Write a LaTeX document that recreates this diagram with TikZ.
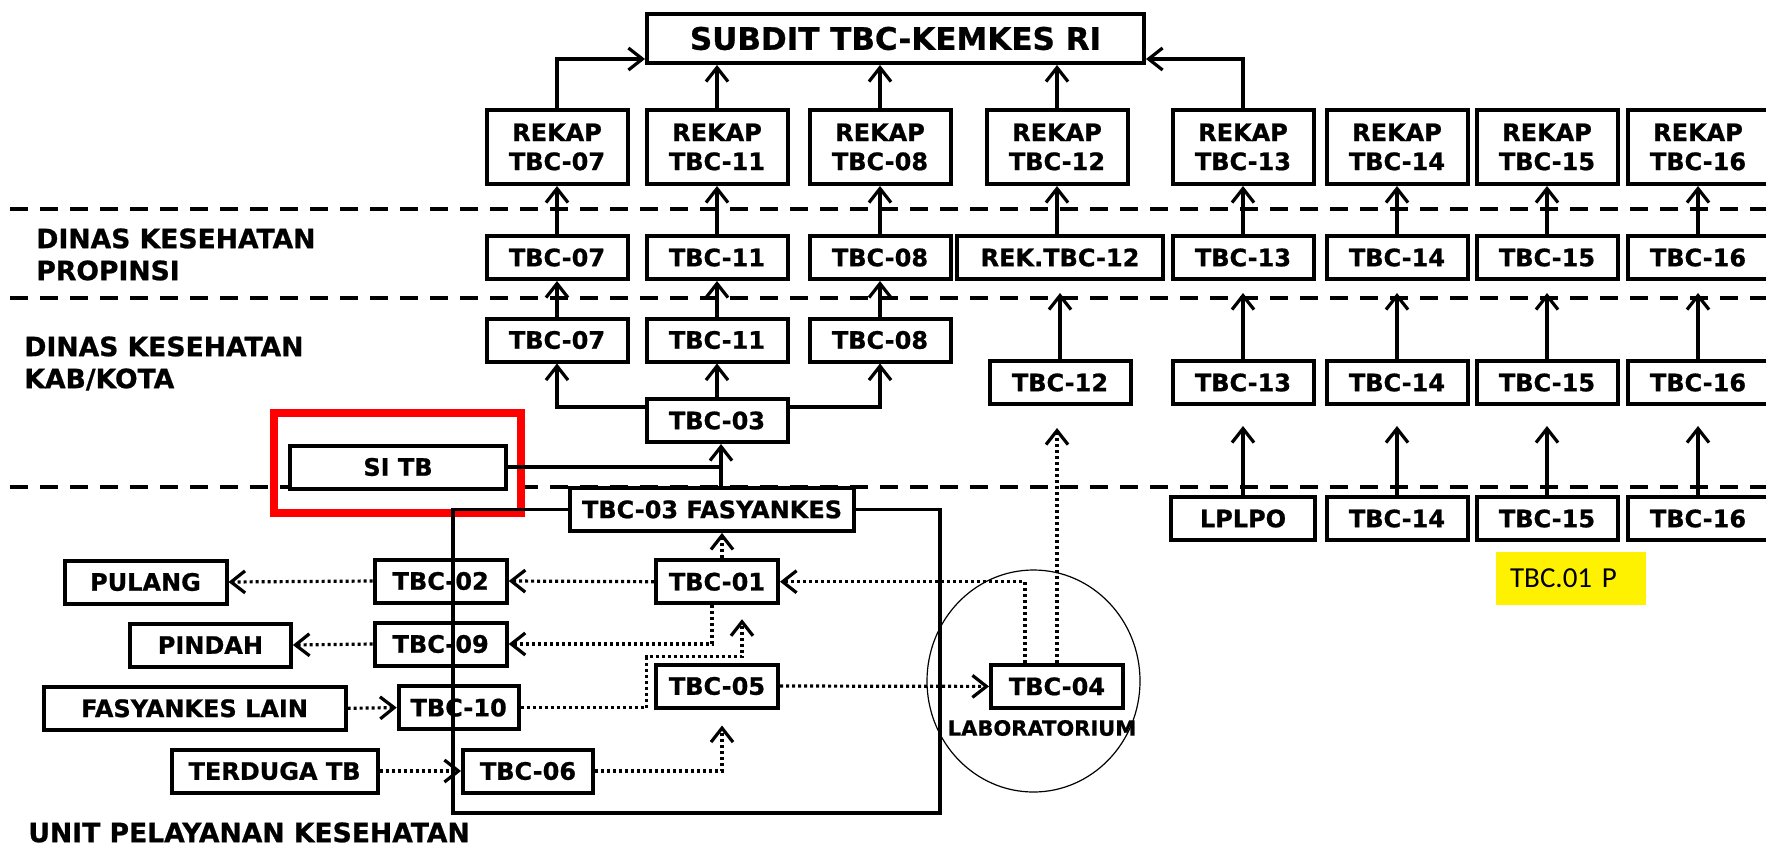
\documentclass[tikz,border=0pt]{standalone}
\usepackage{fontspec}
\setmainfont{DejaVu Sans}[BoldFeatures={FakeBold=0.8}]
\newfontfamily\carlito{Carlito}
\usetikzlibrary{positioning, calc}
\usetikzlibrary{arrows.meta}

\tikzset{
  box/.style={draw, line width=2pt, fill=white, inner sep=0pt, align=center,
    minimum height=21.5pt, font=\bfseries\fontsize{12}{14.5}\selectfont},
  rekap/.style={box, minimum width=70.5pt, minimum height=37pt},
  arr/.style={line width=1.6pt, -{Straight Barb[length=7pt,width=11pt]}},
  darr/.style={arr, dash pattern=on 1.5pt off 1.5pt},
  tierline/.style={line width=2pt, dash pattern=on 9pt off 6pt},
  tiertext/.style={font=\bfseries\fontsize{13.3}{16}\selectfont, align=left,
    anchor=north west, inner sep=0pt}
}

\begin{document}
\begin{tikzpicture}[x=0.5pt, y=-0.5pt]
\useasboundingbox (0,0) rectangle (1766,847);

% batas tingkat
\draw[tierline] (10,209) -- (1766,209);
\draw[tierline] (10,297.5) -- (1766,297.5);
\draw[tierline] (10,487) -- (1766,487);
\node[tiertext] (lprov) at (36,228) {DINAS KESEHATAN\\PROPINSI};
\node[tiertext] (lkab) at (24,336) {DINAS KESEHATAN\\KAB/KOTA};
\node[tiertext] (lunit) at (28,822) {UNIT PELAYANAN KESEHATAN};

\draw[red, line width=4pt] (274,413) rectangle (521,513);

% pusat
\node[box, minimum width=248.5pt, minimum height=24.5pt,
  font=\bfseries\fontsize{15.5}{18}\selectfont] (subdit) at (895.5,38.5) {SUBDIT TBC-KEMKES RI};

% rekap
\node[rekap] (r07) at (557,147) {REKAP\\TBC-07};
\node[rekap] (r11) at (717,147) {REKAP\\TBC-11};
\node[rekap] (r08) at (880,147) {REKAP\\TBC-08};
\node[rekap] (r12) at (1057,147) {REKAP\\TBC-12};
\node[rekap] (r13) at (1243,147) {REKAP\\TBC-13};
\node[rekap] (r14) at (1397,147) {REKAP\\TBC-14};
\node[rekap] (r15) at (1547,147) {REKAP\\TBC-15};
\node[rekap] (r16) at (1698,147) {REKAP\\TBC-16};

% propinsi
\node[box, minimum width=70.5pt] (p07) at (557,257.5) {TBC-07};
\node[box, minimum width=70.5pt] (p11) at (717,257.5) {TBC-11};
\node[box, minimum width=70.5pt] (p08) at (880,257.5) {TBC-08};
\node[box, minimum width=103pt] (p12) at (1060,257.5) {REK.TBC-12};
\node[box, minimum width=70.5pt] (p13) at (1243,257.5) {TBC-13};
\node[box, minimum width=70.5pt] (p14) at (1397,257.5) {TBC-14};
\node[box, minimum width=70.5pt] (p15) at (1547,257.5) {TBC-15};
\node[box, minimum width=70.5pt] (p16) at (1698,257.5) {TBC-16};

% kab/kota
\node[box, minimum width=70.5pt] (k07) at (557,340) {TBC-07};
\node[box, minimum width=70.5pt] (k11) at (717,340) {TBC-11};
\node[box, minimum width=70.5pt] (k08) at (880,340) {TBC-08};
\node[box, minimum width=70.5pt] (tbc03) at (717,420.5) {TBC-03};
\node[box, minimum width=70.5pt] (k12) at (1060,382.5) {TBC-12};
\node[box, minimum width=70.5pt] (k13) at (1243,382.5) {TBC-13};
\node[box, minimum width=70.5pt] (k14) at (1397,382.5) {TBC-14};
\node[box, minimum width=70.5pt] (k15) at (1547,382.5) {TBC-15};
\node[box, minimum width=70.5pt] (k16) at (1698,382.5) {TBC-16};
\node[box, minimum width=108pt] (sitb) at (398,467) {SI TB};

\node[box, minimum width=72pt] (lplpo) at (1243,518.5) {LPLPO};
\node[box, minimum width=70.5pt] (b14) at (1397,518.5) {TBC-14};
\node[box, minimum width=70.5pt] (b15) at (1547,518.5) {TBC-15};
\node[box, minimum width=70.5pt] (b16) at (1698,518.5) {TBC-16};
\node[fill=yellow, anchor=west, text width=61pt, minimum height=26.5pt, inner xsep=7pt,
  inner ysep=0pt, font=\carlito\fontsize{14.5}{17}\selectfont] (tbcp) at (1495.7,578.5) {TBC.01 P};

% fasyankes
\node[box, minimum width=142pt] (fasy) at (712,509.4) {TBC-03 FASYANKES};
\node[box, minimum width=61pt] (t01) at (717,581.7) {TBC-01};
\node[box, minimum width=66pt] (t02) at (440.7,581) {TBC-02};
\node[box, minimum width=81pt] (pulang) at (145.5,582) {PULANG};
\node[box, minimum width=80.5pt] (pindah) at (210.4,645) {PINDAH};
\node[box, minimum width=66pt] (t09) at (440.7,644) {TBC-09};
\node[box, minimum width=151pt] (flain) at (194.6,708.3) {FASYANKES LAIN};
\node[box, minimum width=60pt] (t10) at (458.7,707.6) {TBC-10};
\node[box, minimum width=61pt] (t05) at (717,686) {TBC-05};
\node[box, minimum width=66pt] (t04) at (1057,686.4) {TBC-04};
\node[box, minimum width=103pt] (terduga) at (274.6,771) {TERDUGA TB};
\node[box, minimum width=65pt] (t06) at (528,771) {TBC-06};
\node[font=\bfseries\fontsize{10.5}{12}\selectfont, inner sep=0pt] (lab) at (1042,728) {LABORATORIUM};
\draw[line width=0.6pt] (1033.5,681) ellipse [x radius=53.25pt, y radius=55.5pt];

% ke subdit
\draw[arr] (r07.north) |- ([yshift=3pt]subdit.south west);
\draw[arr] (r13.north) |- ([yshift=3pt]subdit.south east);
\draw[arr] (r11.north) -- (r11.north |- subdit.south);
\draw[arr] (r08.north) -- (r08.north |- subdit.south);
\draw[arr] (r12.north) -- (r12.north |- subdit.south);

% propinsi ke rekap
\draw[arr] (p07.north) -- (r07.south);
\draw[arr] (p11.north) -- (r11.south);
\draw[arr] (p08.north) -- (r08.south);
\draw[arr] (p12.north -| r12.south) -- (r12.south);
\draw[arr] (p13.north) -- (r13.south);
\draw[arr] (p14.north) -- (r14.south);
\draw[arr] (p15.north) -- (r15.south);
\draw[arr] (p16.north) -- (r16.south);

% kab/kota ke propinsi
\draw[arr] (k07.north) -- (p07.south);
\draw[arr] (k11.north) -- (p11.south);
\draw[arr] (k08.north) -- (p08.south);
\draw[arr, shorten >=6pt] (k12.north) -- (p12.south);
\draw[arr, shorten >=6pt] (k13.north) -- (p13.south);
\draw[arr, shorten >=6pt] (k14.north) -- (p14.south);
\draw[arr, shorten >=6pt] (k15.north) -- (p15.south);
\draw[arr, shorten >=6pt] (k16.north) -- (p16.south);

\draw[arr] ([yshift=-5pt]tbc03.north west) -| (k07.south);
\draw[arr] (tbc03.north) -- (k11.south);
\draw[arr] ([yshift=-5pt]tbc03.north east) -| (k08.south);
\draw[arr] ([xshift=2pt]tbc03.south |- fasy.north) -- ([xshift=2pt]tbc03.south);
\draw[line width=1.6pt] (sitb.east) -- ([xshift=2pt]sitb.east -| tbc03.south);

\draw[arr, shorten >=10pt] (lplpo.north) -- (k13.south);
\draw[arr, shorten >=10pt] (b14.north) -- (k14.south);
\draw[arr, shorten >=10pt] (b15.north) -- (k15.south);
\draw[arr, shorten >=10pt] (b16.north) -- (k16.south);

% alur di fasyankes
\draw[darr, shorten >=11pt] (t04.north) -- (t04.north |- k12.south);
\draw[darr] ([xshift=-16pt]t04.north) |- (t01.east);
\draw[darr] (t01.west) -- (t02.east);
\draw[darr] (t02.west) -- (pulang.east);
\draw[darr] ([xshift=2.5pt]t01.north) -- ([xshift=2.5pt]t01.north |- fasy.south);
\draw[darr] ([xshift=-2.5pt]t01.south) |- (t09.east);
\draw[darr] (t09.west) -- (pindah.east);
\draw[darr, shorten >=7pt] (t10.east) -| (646.7,656.7) -| ([xshift=12.5pt]t01.south);
\draw[darr] (flain.east) -- (t10.west);
\draw[darr] (t05.east) -- (t04.west);
\draw[darr] (terduga.east) -- (t06.west);
\draw[darr, shorten >=8pt] (t06.east) -| ([xshift=2.5pt]t05.south);

\draw[line width=1.75pt] (fasy.west) -| (453,813) -| ($(fasy.east)+(84,0)$) -- (fasy.east);
\end{tikzpicture}
\end{document}
